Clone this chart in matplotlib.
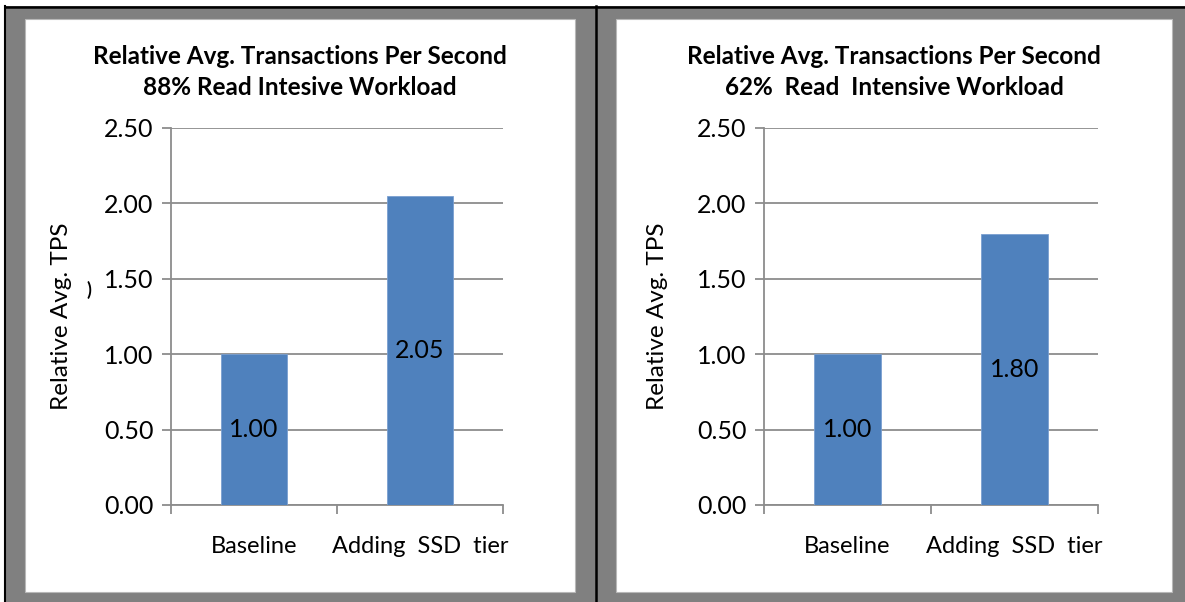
import matplotlib
matplotlib.use("Agg")
import matplotlib.pyplot as plt
from matplotlib.patches import Rectangle
from matplotlib.lines import Line2D

# data
categories = ["Baseline", "Adding  SSD  tier"]
tps_88 = [1.00, 2.05]
tps_62 = [1.00, 1.80]
labels_88 = ["1.00", "2.05"]
labels_62 = ["1.00", "1.80"]
titles = ["Relative Avg. Transactions Per Second\n88% Read Intesive Workload",
          "Relative Avg. Transactions Per Second\n62%  Read  Intensive Workload"]
yticks = [0.0, 0.5, 1.0, 1.5, 2.0, 2.5]

W, H = 1185, 602
plt.rcParams['font.family'] = ['Lato', 'DejaVu Sans']
fig = plt.figure(figsize=(W / 100, H / 100), dpi=100)


def px_rect(x0, y0, x1, y1, **kw):
    # rectangle in pixel coords, origin top-left
    r = Rectangle((x0 / W, 1 - y1 / H), (x1 - x0) / W, (y1 - y0) / H,
                  transform=fig.transFigure, zorder=-10, **kw)
    fig.patches.append(r)


def px_line(xs, ys, **kw):
    fig.lines.append(Line2D([x / W for x in xs], [1 - y / H for y in ys],
                            transform=fig.transFigure, zorder=-9, **kw))


# frame: gray background, black border lines, two white panels
px_rect(5, 6, W, H, facecolor="#808080", edgecolor="none")
px_rect(25, 19, 575, 592, facecolor="white", edgecolor="#b8b8b8", linewidth=0.8)
px_rect(616, 19, 1172, 592, facecolor="white", edgecolor="#b8b8b8", linewidth=0.8)
px_line([5, W], [6.5, 6.5], color="black", linewidth=1.8)
px_line([5, 5], [6, H], color="black", linewidth=1.5)
px_line([595.5, 595.5], [6, H], color="black", linewidth=1.8)

grid_c = "#8c8c8c"
bar_c = "#4f81bd"


def draw_panel(x_ax0, x_ax1, panel_cx, ylab_x, values, labels, title):
    ax = fig.add_axes([x_ax0 / W, 1 - 505 / H, (x_ax1 - x_ax0) / W, 377 / H])
    x = list(range(len(categories)))
    ax.bar(x, values, width=0.4, color=bar_c, edgecolor="#7a9fd0", linewidth=0.6, zorder=3)
    for xi, v, lab in zip(x, values, labels):
        ax.text(xi, v / 2, lab, ha="center", va="center", fontsize=18, color="black", zorder=4)
    ax.set_xlim(-0.5, 1.5)
    ax.set_ylim(0, 2.5)
    ax.set_yticks(yticks)
    ax.set_yticklabels([f"{t:.2f}" for t in yticks], fontsize=18)
    ax.yaxis.grid(True, color=grid_c, linewidth=1.3, zorder=0)
    ax.set_axisbelow(True)
    # category boundaries get tick marks, names sit between them
    ax.set_xticks([-0.5, 0.5, 1.5])
    ax.set_xticklabels([])
    ax.set_xticks(x, minor=True)
    ax.set_xticklabels(categories, minor=True, fontsize=17)
    ax.tick_params(axis="x", which="minor", length=0, pad=22)
    ax.tick_params(axis="x", which="major", length=6.5, width=1.3, color=grid_c)
    ax.tick_params(axis="y", length=6.5, width=1.3, color=grid_c, pad=6)
    for s in ["top", "right"]:
        ax.spines[s].set_visible(False)
    for s in ["left", "bottom"]:
        ax.spines[s].set_color(grid_c)
        ax.spines[s].set_linewidth(1.3)
    ax.set_facecolor("none")
    fig.text(ylab_x / W, 1 - 316 / H, "Relative Avg. TPS", rotation=90,
             ha="center", va="center", fontsize=17.5)
    fig.text(panel_cx / W, 1 - 72 / H, title, ha="center", va="center",
             fontsize=17.5, fontweight="bold", linespacing=1.38)
    return ax


draw_panel(171, 503, 300, 62, tps_88, labels_88, titles[0])
draw_panel(764, 1098, 894, 657, tps_62, labels_62, titles[1])

# stray glyph next to the left axis label
fig.text(89 / W, 1 - 290 / H, ")", ha="center", va="center", fontsize=13, fontweight="bold")

fig.savefig("out.png", dpi=100)
